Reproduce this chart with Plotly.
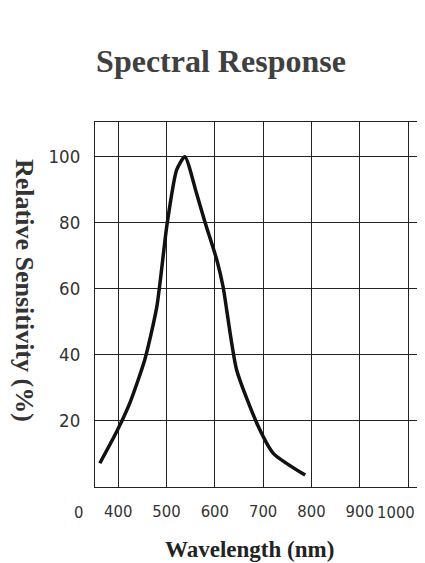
import plotly.graph_objects as go

wavelength = [362, 397, 424, 455, 480, 501, 521, 538, 562, 580, 604, 617, 645, 690, 721, 787]
sensitivity = [7.2, 16.8, 25.4, 38.5, 54.6, 79.4, 96, 100, 89, 80, 68.8, 60.7, 35.5, 18.3, 10.2, 3.6]

x_ticks = [400, 500, 600, 700, 800, 900, 1000]
x_ticklabels = ["400", "500", "600", "700", "800", "900", "1000"]
y_ticks = [20, 40, 60, 80, 100]

fig = go.Figure()
fig.add_trace(go.Scatter(
    x=wavelength, y=sensitivity, mode="lines",
    line=dict(color="#111111", width=3.5, shape="spline", smoothing=0.6),
    showlegend=False, hoverinfo="skip"))

tick_family = "Liberation Sans Narrow, DejaVu Sans Condensed, Arial Narrow, sans-serif"
xtick_font = dict(family=tick_family, size=16.5, color="#333333")
ytick_font = dict(family=tick_family, size=18.5, color="#333333")
serif_bold = "Liberation Serif, Times New Roman, serif"

W, H = 417, 555
PW, PH = 330, 365

# last x label is placed so it stays inside the page (as in the reference)
axis_ticktext = x_ticklabels[:-1] + [""]

fig.update_layout(
    width=W, height=H,
    margin=dict(l=87, r=0, t=114, b=76, autoexpand=False),
    paper_bgcolor="white", plot_bgcolor="white",
    title=dict(text="<b>Spectral Response</b>", x=213 / W, xanchor="center",
               y=1 - 53 / H, yanchor="middle",
               font=dict(family=serif_bold, size=32, color="#404040")),
    xaxis=dict(range=[352, 1035], tickvals=x_ticks, ticktext=axis_ticktext,
               showgrid=True, gridcolor="#222222", gridwidth=1, automargin=False,
               showline=True, linecolor="#222222", linewidth=1, mirror=True,
               ticks="", tickfont=xtick_font, ticklabelstandoff=9, zeroline=False),
    yaxis=dict(range=[0, 110.5], tickvals=y_ticks, ticktext=[str(v) for v in y_ticks],
               showgrid=True, gridcolor="#222222", gridwidth=1, automargin=False,
               showline=True, linecolor="#222222", linewidth=1, mirror=True,
               ticks="", tickfont=ytick_font, ticklabelstandoff=10, zeroline=False),
)

fig.add_annotation(text=x_ticklabels[-1], xref="paper", yref="paper", x=(416 - 95) / PW,
                   y=-25 / PH, xanchor="right", yanchor="middle", showarrow=False,
                   font=xtick_font, borderpad=0)
fig.add_annotation(text="0", xref="paper", yref="paper", x=-17 / PW, y=-25 / PH,
                   xanchor="center", yanchor="middle", showarrow=False, font=xtick_font)
fig.add_annotation(text="<b>Wavelength (nm)</b>", xref="paper", yref="paper",
                   x=(249 - 95) / PW, y=-(549 - 487) / PH,
                   xanchor="center", yanchor="middle", showarrow=False,
                   font=dict(family=serif_bold, size=23, color="#222222"))
fig.add_annotation(text="<b>Relative Sensitivity (%)</b>", xref="paper", yref="paper",
                   x=-70 / PW, y=(487 - 290) / PH, textangle=90,
                   xanchor="center", yanchor="middle", showarrow=False,
                   font=dict(family=serif_bold, size=26, color="#333333"))

fig.write_html("out.html")
